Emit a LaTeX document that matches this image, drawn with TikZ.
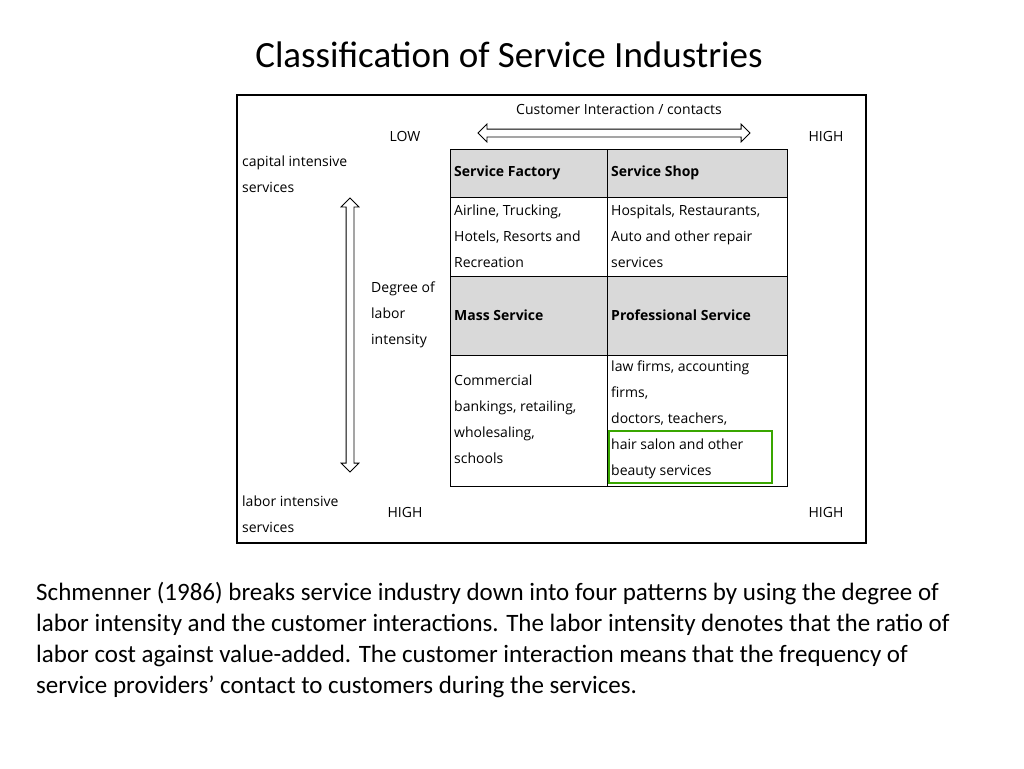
\documentclass[tikz,border=0pt]{standalone}
\usepackage{fontspec}
\setmainfont{Carlito}
\newfontfamily\tabfont{Open Sans}
\usetikzlibrary{shapes.arrows}
\begin{document}
\begin{tikzpicture}[
	x=1pt, y=-1pt,
	lbl/.style={% small labels inside the frame
		anchor=west,
		inner sep=0pt,
		align=left,
		font={\tabfont\fontsize{14}{26}\selectfont},
	},
	hdr/.style={
		lbl,
		font={\tabfont\bfseries\fontsize{14}{26}\selectfont},
	},
	cellbox/.style={
		draw,
		thick,
	},
	twoway/.style={% hollow double arrows
		double arrow,
		draw,
		thick,
		fill=white,
		inner xsep=0pt,
		inner ysep=3.5pt,
		double arrow head extend=5pt,
	},
]
\useasboundingbox (0,0) rectangle (1024,768);

\node (title) at (509,55) {\fontsize{37}{40}\selectfont Classification of Service Industries};

\draw[line width=1.6pt] (237,95) rectangle (866,543);

% table
\fill[gray!30] (450,149) rectangle (787,197);
\fill[gray!30] (450,276) rectangle (787,355);
\draw[cellbox] (450,149) rectangle (787,486);
\draw[cellbox] (607,149) -- (607,486);
\draw[cellbox] (450,197) -- (787,197);
\draw[cellbox] (450,276) -- (787,276);
\draw[cellbox] (450,355) -- (787,355);
\draw[line width=1.5pt, green!50!black!70!lime] (609,431) rectangle (772,483);

\node[hdr] (factory) at (454,173) {Service Factory};
\node[hdr] (shop) at (611,173) {Service Shop};
\node[lbl] (factoryex) at (454,236) {Airline, Trucking,\\Hotels, Resorts and\\Recreation};
\node[lbl] (shopex) at (611,236) {Hospitals, Restaurants,\\Auto and other repair\\services};
\node[hdr] (mass) at (454,315) {Mass Service};
\node[hdr] (prof) at (611,315) {Professional Service};
\node[lbl] (massex) at (454,419.5) {Commercial\\bankings, retailing,\\wholesaling,\\schools};
\node[lbl] (profex) at (611,419.5) {law firms, accounting\\firms,\\doctors, teachers,\\hair salon and other\\beauty services};

% axes
\node[lbl, anchor=center] (axis) at (619,109) {Customer Interaction / contacts};
\node[lbl, anchor=center] (low) at (405,136) {LOW};
\node[lbl, anchor=center] (hightop) at (826,136) {HIGH};
\node[twoway, minimum height=272pt] (harrow) at (614,133) {};
\node[lbl] (capital) at (242,174) {capital intensive\\services};
\node[twoway, minimum height=274pt, rotate=90] (varrow) at (350,335) {};
\node[lbl] (degree) at (371,315) {Degree of\\labor\\intensity};
\node[lbl] (labor) at (242,514) {labor intensive\\services};
\node[lbl, anchor=center] (highleft) at (405,512) {HIGH};
\node[lbl, anchor=center] (highright) at (826,512) {HIGH};

% caption
\node[anchor=north west, inner sep=0pt, align=left, font={\fontsize{25}{31}\selectfont}] (caption) at (36,582)
{Schmenner (1986) breaks service industry down into four patterns by using the degree of\\
labor intensity and the customer interactions. The labor intensity denotes that the ratio of\\
labor cost against value-added. The customer interaction means that the frequency of\\
service providers’ contact to customers during the services.};
\end{tikzpicture}
\end{document}
